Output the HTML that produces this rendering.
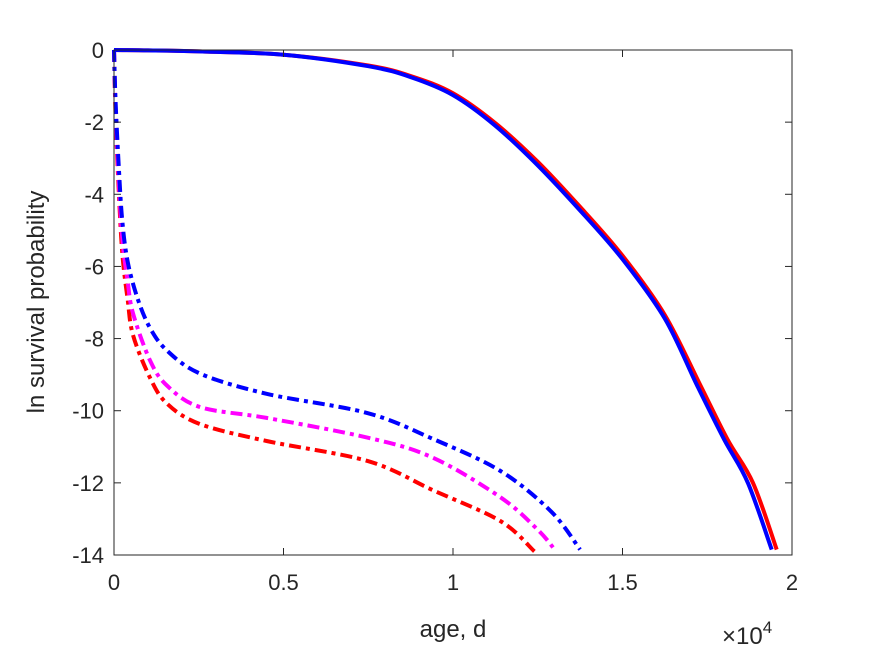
<!DOCTYPE html>
<html><head><meta charset="utf-8"><style>
body{margin:0;background:#fff;}
svg text{font-family:"Liberation Sans",sans-serif;fill:#262626;}
</style></head><body>
<svg id="chart" width="875" height="656" xmlns="http://www.w3.org/2000/svg">
<rect width="875" height="656" fill="#fff"/>
<g id="plot"></g>
<g id="axes"></g>
</svg>
<script>
const xTicks=[0,0.5,1,1.5,2];
const xTickLabels=["0","0.5","1","1.5","2"];
const yTicks=[0,-2,-4,-6,-8,-10,-12,-14];
const yTickLabels=["0","-2","-4","-6","-8","-10","-12","-14"];
const solidX=[0,0.1,0.25,0.5,0.75,0.875,1,1.125,1.25,1.375,1.5,1.625,1.72,1.8,1.87,1.94];
const solidBlueY=[0,-0.01,-0.04,-0.13,-0.45,-0.75,-1.25,-2.1,-3.2,-4.45,-5.8,-7.45,-9.3,-10.8,-12.0,-13.85];
const solidRedX=[0,0.1,0.25,0.5,0.75,0.875,1,1.125,1.25,1.375,1.5,1.625,1.73,1.81,1.885,1.955];
const solidRedY=[0,-0.01,-0.04,-0.13,-0.43,-0.72,-1.2,-2.03,-3.1,-4.35,-5.7,-7.35,-9.3,-10.8,-12.0,-13.85];
const dashBlueX=[0,0.005,0.015,0.025,0.041,0.07,0.106,0.156,0.254,0.45,0.746,0.94,1.14,1.29,1.375];
const dashBlueY=[0,-1.5,-3.4,-4.8,-5.9,-6.9,-7.7,-8.33,-8.97,-9.53,-10.06,-10.78,-11.67,-12.8,-13.85];
const dashMagX=[0,0.005,0.015,0.025,0.04,0.056,0.106,0.156,0.254,0.45,0.75,0.94,1.14,1.25,1.3];
const dashMagY=[0,-1.7,-3.8,-5.3,-6.4,-7.3,-8.6,-9.3,-9.9,-10.2,-10.75,-11.3,-12.4,-13.3,-13.85];
const dashRedX=[0,0.005,0.015,0.025,0.04,0.056,0.106,0.156,0.254,0.45,0.75,0.94,1.14,1.24];
const dashRedY=[0,-1.9,-4.1,-5.7,-6.9,-7.9,-9.08,-9.8,-10.37,-10.84,-11.4,-12.2,-13.06,-13.9];

const X0=114,X1=792,Y0=50,Y1=555;
const sx=v=>X0+(v-0)/(2-0)*(X1-X0);
const sy=v=>Y0+(0-v)/(0+14)*(Y1-Y0);
const NS="http://www.w3.org/2000/svg";
const plot=document.getElementById('plot'),axes=document.getElementById('axes');
function smoothPath(pts){
  let d='M'+pts[0][0].toFixed(1)+','+pts[0][1].toFixed(1);
  for(let i=0;i<pts.length-1;i++){
    const p0=pts[Math.max(0,i-1)],p1=pts[i],p2=pts[i+1],p3=pts[Math.min(pts.length-1,i+2)];
    const c1=[p1[0]+(p2[0]-p0[0])/6,p1[1]+(p2[1]-p0[1])/6];
    const c2=[p2[0]-(p3[0]-p1[0])/6,p2[1]-(p3[1]-p1[1])/6];
    d+='C'+c1[0].toFixed(1)+','+c1[1].toFixed(1)+' '+c2[0].toFixed(1)+','+c2[1].toFixed(1)+' '+p2[0].toFixed(1)+','+p2[1].toFixed(1);
  }
  return d;
}
function line(xs,ys,color,dash,name){
  const p=document.createElementNS(NS,'path');
  
  
  const pts=xs.map((x,i)=>[sx(x),sy(ys[i])]);
  p.setAttribute('d',smoothPath(pts));p.setAttribute('fill','none');p.setAttribute('stroke',color);
  p.setAttribute('stroke-width','4');p.setAttribute('stroke-linejoin','round');
  if(dash)p.setAttribute('stroke-dasharray',dash);
  plot.appendChild(p);
}
line(dashRedX,dashRedY,'#ff0000','12,5,4,5','dashdot-red');
line(dashMagX,dashMagY,'#ff00ff','12,5,4,5','dashdot-magenta');
line(dashBlueX,dashBlueY,'#0000ff','12,5,4,5','dashdot-blue');
line(solidRedX,solidRedY,'#ff0000',null,'solid-red');
line(solidX,solidBlueY,'#0000ff',null,'solid-blue');
const box=document.createElementNS(NS,'rect');


box.setAttribute('x',X0);box.setAttribute('y',Y0);box.setAttribute('width',X1-X0);box.setAttribute('height',Y1-Y0);
box.setAttribute('fill','none');box.setAttribute('stroke','#262626');box.setAttribute('stroke-width','1');
axes.appendChild(box);
function tick(x1,y1,x2,y2){const l=document.createElementNS(NS,'line');
  
  
  l.setAttribute('x1',x1);l.setAttribute('y1',y1);l.setAttribute('x2',x2);l.setAttribute('y2',y2);l.setAttribute('stroke','#262626');axes.appendChild(l);}
function text(x,y,s,anchor,name,size){const t=document.createElementNS(NS,'text');
  
  
  t.setAttribute('x',x);t.setAttribute('y',y);t.setAttribute('text-anchor',anchor);t.setAttribute('font-size',size||22);t.textContent=s;axes.appendChild(t);return t;}
xTicks.forEach((v,i)=>{const x=sx(v);tick(x,Y1,x,Y1-7);tick(x,Y0,x,Y0+7);text(x,590,xTickLabels[i],'middle','x-tick-label');});
yTicks.forEach((v,i)=>{const y=sy(v);tick(X0,y,X0+7,y);tick(X1,y,X1-7,y);text(X0-10,y+8,yTickLabels[i],'end','y-tick-label');});
text(453,637,'age, d','middle','x-axis-title',24);
const yl=text(0,0,'ln survival probability','middle','y-axis-title',24);
yl.setAttribute('transform','translate(44,302) rotate(-90)');
const ex=text(722,644,'×10','start','x-exponent',24);
const sup=document.createElementNS(NS,'tspan');sup.setAttribute('font-size','17');sup.setAttribute('dy','-11');sup.textContent='4';ex.appendChild(sup);
</script>
</body></html>
